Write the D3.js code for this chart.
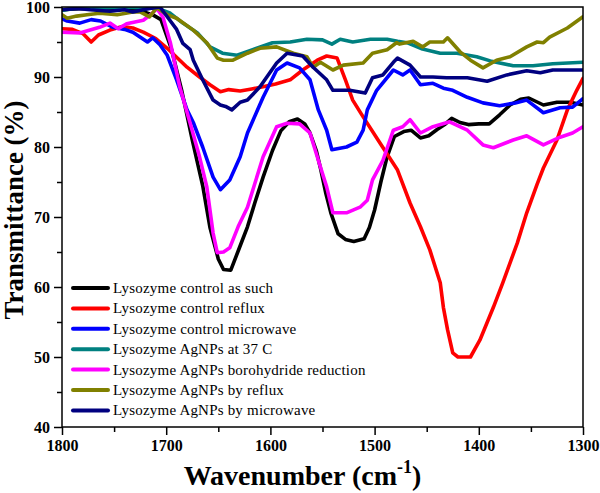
<!DOCTYPE html>
<html>
<head>
<meta charset="utf-8">
<script src="https://cdn.jsdelivr.net/npm/d3@7"></script>
<style>
body{margin:0;background:#fff;}
svg{display:block;}
svg text{font-family:"Liberation Serif","Times New Roman",Times,Tinos,"DejaVu Serif","Noto Serif",serif !important;}
</style>
</head>
<body>
<svg id="chart" width="600" height="493"></svg>
<script>
// ---------- DATA ----------
const seriesNames = [
  "Lysozyme control as such",
  "Lysozyme control reflux",
  "Lysozyme control microwave",
  "Lysozyme AgNPs at 37 C",
  "Lysozyme AgNPs borohydride reduction",
  "Lysozyme AgNPs by reflux",
  "Lysozyme AgNPs by microwave"
];
const seriesColors = ["#000000","#ff0000","#0000ff","#008080","#ff00ff","#808000","#000080"];

const controlAsSuch = [
  [1800,99.6],[1780,99.8],[1760,99.7],[1740,99.9],[1725,99.5],[1712,98.8],[1705,98.2],[1695,94],[1685,88],[1675,81],
  [1665,74.5],[1658,68.5],[1650,64],[1645,62.5],[1638,62.4],[1630,65.5],[1622,68.6],[1615,72],[1607,75.7],[1598,79.5],
  [1590,82.3],[1582,83.6],[1574,84],[1567,83.3],[1562,82],[1556,79.5],[1552,77],[1547,73.5],[1542,70.6],[1535,67.6],
  [1528,66.8],[1520,66.5],[1510,66.9],[1505,68.5],[1500,71],[1494,75],[1488,78.6],[1481,81.5],[1472,82.2],[1465,82.4],
  [1456,81.3],[1448,81.6],[1440,82.5],[1432,83.3],[1426,84.1],[1418,83.5],[1410,83.2],[1400,83.3],[1390,83.3],[1380,84.6],
  [1370,86],[1360,86.8],[1352,87],[1345,86.5],[1338,86],[1325,86.4],[1312,86.4],[1300,86]
];
const controlReflux = [
  [1800,96.9],[1790,96.8],[1780,96.2],[1772,95],[1765,96],[1754,96.7],[1742,97.2],[1732,97],[1722,96.4],[1710,95.5],
  [1699,94.1],[1687,92.4],[1680,91.4],[1668,90],[1658,88.9],[1648,87.9],[1640,88.2],[1629,88],[1618,88.3],[1607,88.6],
  [1595,89],[1581,89.6],[1569,91],[1555,92.4],[1546,93],[1536,92.7],[1528,89.6],[1521,86.7],[1511,84.3],[1495,80.6],
  [1478,76.7],[1466,72],[1456,68.6],[1447,65.3],[1437,60.6],[1434,57.1],[1430,53.9],[1425,50.6],[1420,50],[1408,50],
  [1399,52.4],[1386,57.1],[1377,60.6],[1363,66.3],[1354,70.6],[1344,74.7],[1338,77],[1325,81],[1315,85.3],[1306,88.1],[1300,89.8]
];
const controlMicrowave = [
  [1800,98.3],[1795,98],[1783,97.7],[1772,98.2],[1763,98],[1751,97.1],[1740,96.8],[1732,96.4],[1718,95],[1713,95.6],
  [1706,94.6],[1699,93.1],[1690,89.6],[1680,85.3],[1674,83.5],[1665,80],[1655,75.7],[1648,73.9],[1639,75.3],[1629,78.6],
  [1622,82],[1607,87.1],[1594,91],[1584,92],[1572,91.3],[1562,89.6],[1554,85.3],[1546,82.4],[1541,79.6],[1527,80],
  [1517,80.7],[1511,82.4],[1507,85.3],[1498,88.1],[1482,91],[1473,90.3],[1466,91],[1456,88.9],[1444,89.1],[1434,88.4],
  [1425,88.1],[1411,87.1],[1396,86.3],[1380,85.9],[1365,86.3],[1354,86.7],[1338,84.9],[1322,85.6],[1310,85.7],[1300,86.9]
];
const agnps37 = [
  [1800,99.5],[1785,99.9],[1765,99.8],[1745,100],[1725,99.9],[1708,99.8],[1696,99.1],[1684,97.7],[1670,96.3],[1658,94.3],
  [1646,93.4],[1632,93.1],[1617,93.9],[1598,94.9],[1581,95],[1565,95.4],[1550,95.3],[1541,94.7],[1533,95.4],[1521,95],
  [1504,95.4],[1488,95.4],[1478,95.1],[1469,94.9],[1454,94],[1437,93.4],[1421,93.4],[1402,92.9],[1389,92.3],[1367,91.6],
  [1348,91.6],[1329,91.9],[1300,92.1]
];
const agnpsBorohydride = [
  [1800,96.4],[1783,96.3],[1764,97.1],[1754,97.7],[1746,96.9],[1738,97.6],[1722,98.1],[1714,99],[1709,99.8],[1703,98.5],
  [1696,94.9],[1687,88.6],[1677,83.4],[1668,78.6],[1661,74.3],[1655,67.7],[1651,64.9],[1645,65],[1639,65.6],[1631,68.6],
  [1622,71.4],[1607,78.6],[1594,82.9],[1584,83.4],[1572,83.3],[1562,82],[1554,78.1],[1546,74.3],[1540,70.6],[1527,70.6],
  [1514,71.4],[1507,72.4],[1502,75.3],[1492,78.1],[1482,82.4],[1473,82.9],[1466,83.9],[1456,82],[1444,82.9],[1428,83.6],
  [1411,82.4],[1396,80.3],[1386,79.9],[1367,81],[1354,81.6],[1338,80.3],[1322,81.4],[1310,82],[1300,82.9]
];
const agnpsReflux = [
  [1800,98.9],[1795,98.4],[1786,98.7],[1776,98.9],[1764,99.1],[1747,98.9],[1732,99.3],[1725,99.3],[1716,98.6],[1709,99.9],
  [1699,98.9],[1690,98.4],[1674,96.7],[1661,94.9],[1651,92.7],[1645,92.4],[1636,92.4],[1622,93.4],[1610,94.1],[1594,94.3],
  [1578,93.4],[1565,92.9],[1559,91.4],[1552,92.1],[1540,91],[1530,91.7],[1511,92],[1502,93.4],[1488,93.9],[1479,94.9],
  [1476,94.7],[1463,95.1],[1454,94.3],[1447,95],[1434,95],[1430,95.6],[1418,93.6],[1408,92.4],[1396,91.3],[1383,92.4],
  [1370,92.9],[1354,94.3],[1344,95],[1338,94.9],[1332,95.7],[1315,97],[1300,98.6]
];
const agnpsMicrowave = [
  [1800,99.6],[1785,99.8],[1773,99.6],[1754,99.4],[1740,99.6],[1732,99.3],[1716,99.8],[1706,100],[1699,98.6],[1690,96.8],
  [1684,94.8],[1677,93.9],[1674,92.4],[1665,89.6],[1655,86.7],[1648,86],[1643,85.8],[1637,85.3],[1629,86.4],[1622,86.7],
  [1610,88.6],[1594,92],[1584,93.4],[1569,93],[1559,91.4],[1546,89.6],[1540,88.1],[1524,88.1],[1509,87.7],[1502,89.9],
  [1492,90.3],[1482,92.1],[1478,92.7],[1466,91.7],[1456,90],[1444,90],[1431,89.9],[1411,89.9],[1392,89.4],[1373,90.3],
  [1354,90.9],[1341,90.6],[1329,91],[1300,91]
];
const seriesData = [controlAsSuch, controlReflux, controlMicrowave, agnps37, agnpsBorohydride, agnpsReflux, agnpsMicrowave];

const xTickValues = [1800,1700,1600,1500,1400,1300];
const yTickValues = [40,50,60,70,80,90,100];
const xTitle = "Wavenumber (cm";
const xTitleSup = "-1";
const yTitle = "Transmittance (%)";

// ---------- LAYOUT ----------
const svg = d3.select("#chart");
const L = 62, R = 583, T = 7, B = 427;
const x = d3.scaleLinear().domain([1800,1300]).range([L,R]);
const y = d3.scaleLinear().domain([40,100]).range([B,T]);

svg.append("defs").append("clipPath").attr("id","clip")
  .append("rect").attr("x",L).attr("y",T).attr("width",R-L).attr("height",B-T);

// lines
const line = d3.line().x(d=>x(d[0])).y(d=>y(d[1]));
const g = svg.append("g").attr("clip-path","url(#clip)");
seriesData.forEach((s,i)=>{
  g.append("path").datum(s).attr("d",line)
    .attr("fill","none").attr("stroke",seriesColors[i])
    .attr("stroke-width",3.6).attr("stroke-linejoin","round").attr("stroke-linecap","round");
});

const xMinor = d3.range(1750,1300,-100);
const yMinor = d3.range(45,100,10);

// axes
const xAxis = d3.axisBottom(x).tickValues(xTickValues).tickSize(8).tickPadding(5).tickFormat(d3.format("d"));
const yAxis = d3.axisLeft(y).tickValues(yTickValues).tickSize(8).tickPadding(4).tickFormat(d3.format("d"));
const gx = svg.append("g").attr("transform",`translate(0,${B})`).call(xAxis);
const gy = svg.append("g").attr("transform",`translate(${L},0)`).call(yAxis);
svg.append("g").attr("transform",`translate(0,${B})`)
  .call(d3.axisBottom(x).tickValues(xMinor).tickSize(5).tickFormat(""))
  .select(".domain").remove();
svg.append("g").attr("transform",`translate(${L},0)`)
  .call(d3.axisLeft(y).tickValues(yMinor).tickSize(5).tickFormat(""))
  .select(".domain").remove();
[gx,gy].forEach(a=>{
  a.select(".domain").remove();
  a.selectAll("text").attr("font-weight","bold").attr("font-size",16).attr("fill","#000");
});
svg.selectAll(".tick line").attr("stroke","#000").attr("stroke-width",1.5);

// frame
svg.append("rect").attr("x",L).attr("y",T).attr("width",R-L).attr("height",B-T)
  .attr("fill","none").attr("stroke","#000").attr("stroke-width",1.5);

// titles
const xt = svg.append("text").attr("x",(180+425)/2).attr("y",485).attr("text-anchor","middle")
  .attr("font-weight","bold").attr("font-size",28).attr("fill","#000");
xt.append("tspan").text(xTitle);
xt.append("tspan").text(xTitleSup).attr("font-size",18).attr("dy",-12);
xt.append("tspan").text(")").attr("dy",12);

svg.append("text").attr("transform",`translate(23,${210}) rotate(-90)`).attr("text-anchor","middle")
  .attr("font-weight","bold").attr("font-size",27).attr("fill","#000")
  .text(yTitle);

// legend
const leg = svg.append("g");
seriesNames.forEach((n,i)=>{
  const yy = 288 + i*20.4;
  leg.append("line").attr("x1",73).attr("x2",108).attr("y1",yy).attr("y2",yy)
    .attr("stroke",seriesColors[i]).attr("stroke-width",4).attr("stroke-linecap","round");
  leg.append("text").attr("x",113).attr("y",yy+5).attr("font-size",15)
    .attr("letter-spacing",0.2).attr("fill","#000").text(n);
});
</script>
</body>
</html>
